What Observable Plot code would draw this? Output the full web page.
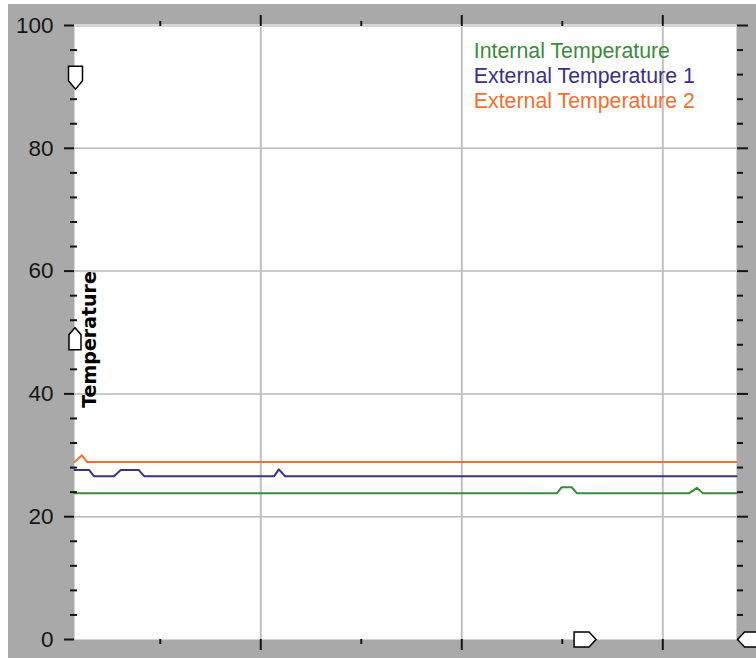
<!DOCTYPE html>
<html><head><meta charset="utf-8">
<script src="https://cdn.jsdelivr.net/npm/d3@7"></script>
<script src="https://cdn.jsdelivr.net/npm/@observablehq/plot@0.6"></script>
<style>
html,body{margin:0;padding:0;background:#fff;overflow:hidden;width:756px;height:658px}
#chart{position:absolute;left:8px;top:4px;width:748px;height:654px;background:#a9a9a9;overflow:hidden}
#chart svg{display:block}
</style></head><body><div id="chart"></div>
<script>
// Series
const seriesNames = ["Internal Temperature", "External Temperature 1", "External Temperature 2"];
const seriesColors = ["#3d8a3d", "#3e2f84", "#f07030"];

const internalTime = [32.2, 104.2, 104.9, 106.4, 107.2, 123.9, 125.1, 126.0, 131.0];
const internalTemp = [23.8, 23.8, 24.8, 24.8, 23.8, 23.8, 24.7, 23.8, 23.8];

const external1Time = [32.2, 34.4, 35.1, 38.1, 39.1, 41.8, 42.6, 62.0, 62.7, 63.6, 131.0];
const external1Temp = [27.6, 27.6, 26.6, 26.6, 27.6, 27.6, 26.6, 26.6, 27.7, 26.6, 26.6];

const external2Time = [32.2, 33.3, 34.1, 131.0];
const external2Temp = [28.9, 30.0, 28.9, 28.9];

// Axes
const xDomain = [32.2, 131.0];
const yDomain = [0, 100];
const yMajorTicks = [0, 20, 40, 60, 80, 100];
const yMinorTicks = [4, 8, 12, 16, 24, 28, 32, 36, 44, 48, 52, 56, 64, 68, 72, 76, 84, 88, 92, 96];
const yGridTicks = [20, 40, 60, 80];
const xMajorTicks = [60, 90, 120];
const xMinorTicks = [45, 75, 105];
const yLabel = "Temperature";

// Slider markers (values on the axes)
const sliderYHigh = [91.5];
const sliderYLow = [49];
const sliderXLow = [108.4];
const sliderXHigh = [132.8];

// Legend placement (data coordinates)
const legendX = 91.8;
const legendY = [95.8, 91.7, 87.6];

const times = [internalTime, external1Time, external2Time];
const temps = [internalTemp, external1Temp, external2Temp];
const rows = seriesNames.flatMap((name, i) => times[i].map((t, j) => ({series: name, time: t, temp: temps[i][j]})));

function poly(points) {
  return {draw(ctx) {
    ctx.moveTo(points[0][0], points[0][1]);
    for (let k = 1; k < points.length; k++) ctx.lineTo(points[k][0], points[k][1]);
    ctx.closePath();
  }};
}
const shieldDown = poly([[-7,-11.5],[7,-11.5],[7,3],[0,11.5],[-7,3]]);
const shieldUp = poly([[0,-11],[6,-4],[6,11],[-6,11],[-6,-4]]);
const shieldRight = poly([[-11,-7.5],[4,-7.5],[11,0],[4,7.5],[-11,7.5]]);
const shieldLeft = poly([[-11,0],[-4,-7.5],[11,-7.5],[11,7.5],[-4,7.5]]);

const tickFont = "Liberation Sans, Arial, sans-serif";
const blank = () => "";

const chart = Plot.plot({
  width: 748,
  height: 654,
  marginLeft: 66,
  marginTop: 21,
  marginRight: 20,
  marginBottom: 19,
  style: {background: "transparent", overflow: "visible"},
  x: {domain: xDomain},
  y: {domain: yDomain},
  color: {domain: seriesNames, range: seriesColors},
  marks: [
    Plot.frame({fill: "white", stroke: null}),
    Plot.ruleY(yGridTicks, {stroke: "#b8b8b8", strokeWidth: 1.5}),
    Plot.ruleX(xMajorTicks, {stroke: "#c0c0c0", strokeWidth: 2}),
    Plot.ruleY([yDomain[1]], {stroke: "#d6d6d6", strokeWidth: 3}),
    Plot.line(rows, {x: "time", y: "temp", z: "series", stroke: "series", strokeWidth: 2}),
    // left axis
    Plot.axisY({ticks: yMajorTicks, tickSize: 10, tickPadding: 11, fontSize: 22.5, fontFamily: tickFont, color: "#151515", strokeWidth: 2, label: null}),
    Plot.axisY({ticks: yMinorTicks, tickSize: 7, dx: 3, tickFormat: blank, color: "#151515", strokeWidth: 2, label: null}),
    // right axis
    Plot.axisY({anchor: "right", ticks: yMajorTicks, tickSize: 11, tickFormat: blank, color: "#151515", strokeWidth: 2, label: null}),
    Plot.axisY({anchor: "right", ticks: yMinorTicks, tickSize: 6, tickFormat: blank, color: "#151515", strokeWidth: 2, label: null}),
    // top axis
    Plot.axisX({anchor: "top", ticks: xMajorTicks, tickSize: 11, tickFormat: blank, color: "#151515", strokeWidth: 2, label: null}),
    Plot.axisX({anchor: "top", ticks: xMinorTicks, tickSize: 5, tickFormat: blank, color: "#151515", strokeWidth: 2, label: null}),
    // bottom axis
    Plot.axisX({anchor: "bottom", ticks: xMajorTicks, tickSize: 11, tickFormat: blank, color: "#151515", strokeWidth: 2, label: null}),
    Plot.axisX({anchor: "bottom", ticks: xMinorTicks, tickSize: 5, tickFormat: blank, color: "#151515", strokeWidth: 2, label: null}),
    // legend
    Plot.text(seriesNames, {x: () => legendX, y: (d, i) => legendY[i], text: d => d, fill: d => d, textAnchor: "start", fontSize: 21.3, fontFamily: tickFont}),
    // y label
    Plot.text([yLabel], {text: d => d, frameAnchor: "left", textAnchor: "middle", rotate: -90, dx: 15, dy: 7, fontSize: 19, fontWeight: "bold", fontFamily: "DejaVu Sans, sans-serif", fill: "#000"}),
    // slider markers
    Plot.dot(sliderYHigh, {x: () => xDomain[0], y: d => d, dx: 1, symbol: shieldDown, fill: "white", stroke: "#000", strokeWidth: 1.5}),
    Plot.dot(sliderYLow, {x: () => xDomain[0], y: d => d, dx: 0.5, symbol: shieldUp, fill: "white", stroke: "#000", strokeWidth: 1.5}),
    Plot.dot(sliderXLow, {x: d => d, y: () => yDomain[0], symbol: shieldRight, fill: "white", stroke: "#000", strokeWidth: 1.5}),
    Plot.dot(sliderXHigh, {x: d => d, y: () => yDomain[0], symbol: shieldLeft, fill: "white", stroke: "#000", strokeWidth: 1.5})
  ]
});
document.getElementById("chart").appendChild(chart);
</script>
</body></html>
